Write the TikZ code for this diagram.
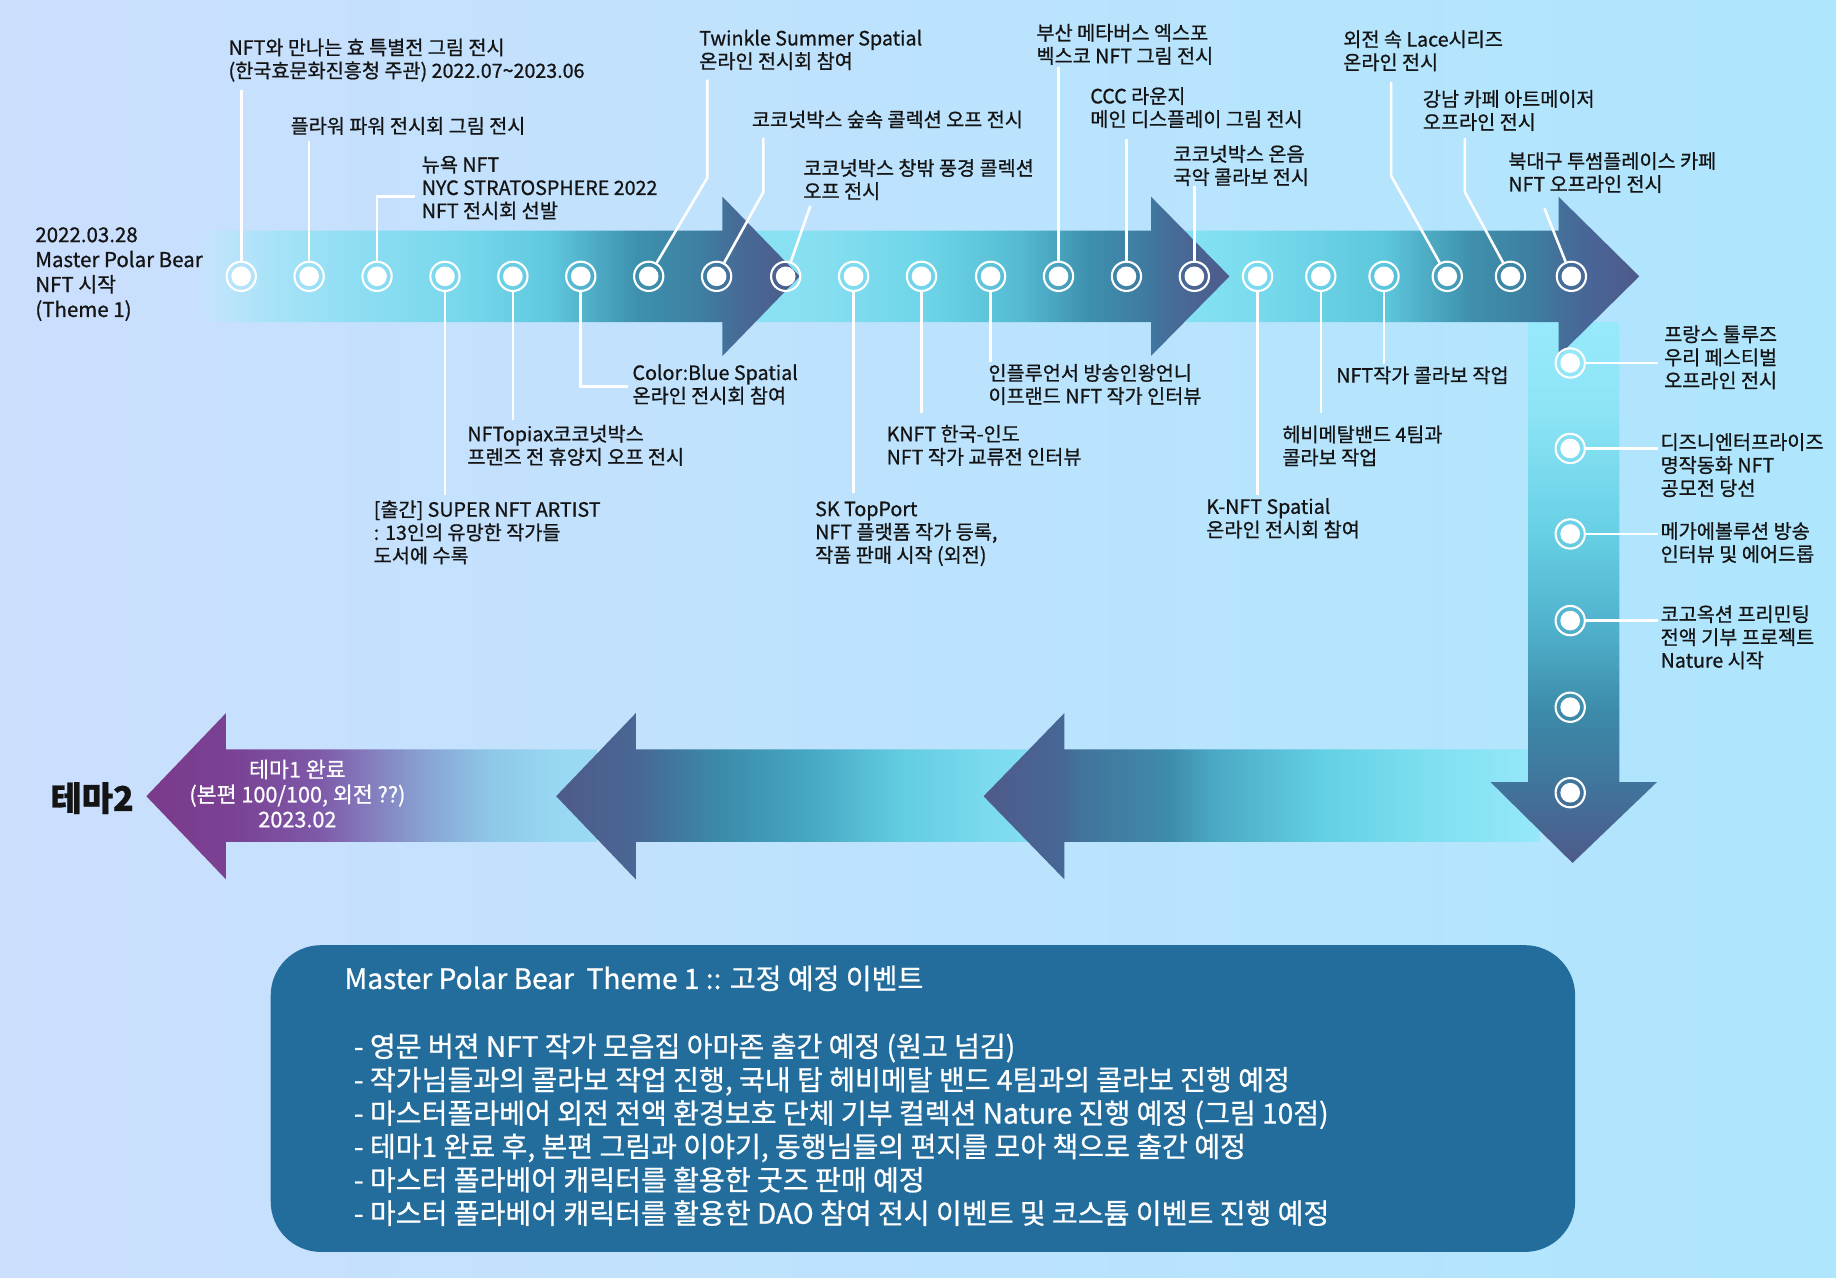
\documentclass[tikz,border=0pt]{standalone}
\usepackage{fontspec}
\setmainfont{Noto Sans CJK KR}[FakeBold=0.8]

\definecolor{bgL}{HTML}{CBDFFD}
\definecolor{bgR}{HTML}{AEE6FD}
\definecolor{boxblue}{HTML}{236D9D}
\definecolor{ink}{HTML}{141414}
% segment 1
\definecolor{sAa}{HTML}{C4E4FC}\definecolor{sAb}{HTML}{A9E3F8}\definecolor{sAc}{HTML}{8FDEF3}
\definecolor{sAd}{HTML}{76D7EB}\definecolor{sAe}{HTML}{5FC8DE}\definecolor{sAf}{HTML}{3D90AD}
\definecolor{sAg}{HTML}{3E7EA1}\definecolor{sAh}{HTML}{466B97}\definecolor{sAi}{HTML}{4F5A8A}
% segment 2
\definecolor{sBa}{HTML}{8FE3F4}\definecolor{sBb}{HTML}{86DFF1}\definecolor{sBc}{HTML}{6ED5E8}
\definecolor{sBd}{HTML}{55BBD3}\definecolor{sBe}{HTML}{3E90AD}\definecolor{sBf}{HTML}{3F789F}
\definecolor{sBg}{HTML}{466C98}\definecolor{sBh}{HTML}{4E5A8A}
% segment 3
\definecolor{sCa}{HTML}{86E2F3}\definecolor{sCb}{HTML}{7CDDEF}\definecolor{sCc}{HTML}{5CC6DC}
\definecolor{sCd}{HTML}{3F90AC}\definecolor{sCe}{HTML}{3D7EA0}\definecolor{sCf}{HTML}{44709A}
\definecolor{sCg}{HTML}{496496}\definecolor{sCh}{HTML}{4E5A8A}
% vertical
\definecolor{vA}{HTML}{97E9FB}\definecolor{vB}{HTML}{8DE4F6}\definecolor{vC}{HTML}{68D0E5}
\definecolor{vD}{HTML}{4FB0CB}\definecolor{vE}{HTML}{3C8AA9}\definecolor{vF}{HTML}{40769C}
\definecolor{vG}{HTML}{4E5A8A}
% bottom A
\definecolor{bAa}{HTML}{4F5A8A}\definecolor{bAb}{HTML}{466895}\definecolor{bAc}{HTML}{42739B}
\definecolor{bAd}{HTML}{3E8CAB}\definecolor{bAe}{HTML}{4BA8C4}\definecolor{bAf}{HTML}{62CFE3}
\definecolor{bAg}{HTML}{7DDFF0}\definecolor{bAh}{HTML}{96E8FA}
% bottom B
\definecolor{bBa}{HTML}{4F5A8A}\definecolor{bBb}{HTML}{486793}\definecolor{bBc}{HTML}{42729B}
\definecolor{bBd}{HTML}{3B8AAA}\definecolor{bBe}{HTML}{45A5C2}\definecolor{bBf}{HTML}{62CCE0}
\definecolor{bBg}{HTML}{7ADAEE}\definecolor{bBh}{HTML}{88E0F2}
% bottom C (purple)
\definecolor{bCa}{HTML}{7B3A8B}\definecolor{bCb}{HTML}{7A4294}\definecolor{bCc}{HTML}{7E58A8}
\definecolor{bCd}{HTML}{8480BF}\definecolor{bCe}{HTML}{89A8D6}\definecolor{bCf}{HTML}{8EC8E8}
\definecolor{bCg}{HTML}{98D8F2}\definecolor{bCh}{HTML}{9ADAF3}

\pgfdeclarehorizontalshading{shsegone}{100bp}{color(0bp)=(sAa); color(25bp)=(sAa); color(30.4bp)=(sAb);
 color(37.3bp)=(sAc); color(47.1bp)=(sAd); color(54bp)=(sAe); color(61.4bp)=(sAf); color(66.8bp)=(sAg);
 color(69.7bp)=(sAh); color(75bp)=(sAi); color(100bp)=(sAi)}
\pgfdeclarehorizontalshading{shsegtwo}{100bp}{color(0bp)=(sBa); color(25bp)=(sBa); color(36.1bp)=(sBb);
 color(46.1bp)=(sBc); color(55bp)=(sBd); color(61.7bp)=(sBe); color(67.6bp)=(sBf); color(69.4bp)=(sBg);
 color(75bp)=(sBh); color(100bp)=(sBh)}
\pgfdeclarehorizontalshading{shsegthree}{100bp}{color(0bp)=(sCa); color(25bp)=(sCa); color(32.5bp)=(sCb);
 color(48bp)=(sCc); color(57bp)=(sCd); color(63.75bp)=(sCe); color(66.4bp)=(sCf); color(70bp)=(sCg);
 color(75bp)=(sCh); color(100bp)=(sCh)}
\pgfdeclareverticalshading{shvert}{100bp}{color(0bp)=(vG); color(25bp)=(vG); color(32.7bp)=(vF);
 color(38.9bp)=(vE); color(46.5bp)=(vD); color(55.7bp)=(vC); color(66.9bp)=(vB); color(75bp)=(vA);
 color(100bp)=(vA)}
\pgfdeclarehorizontalshading{shbota}{100bp}{color(0bp)=(bAa); color(25bp)=(bAa); color(32.3bp)=(bAb);
 color(33.6bp)=(bAc); color(41.8bp)=(bAd); color(45.6bp)=(bAe); color(55.3bp)=(bAf); color(64.6bp)=(bAg);
 color(75bp)=(bAh); color(100bp)=(bAh)}
\pgfdeclarehorizontalshading{shbotb}{100bp}{color(0bp)=(bBa); color(25bp)=(bBa); color(33bp)=(bBb);
 color(35.5bp)=(bBc); color(41.2bp)=(bBd); color(49.8bp)=(bBe); color(59.6bp)=(bBf); color(67.9bp)=(bBg);
 color(75bp)=(bBh); color(100bp)=(bBh)}
\pgfdeclarehorizontalshading{shbotc}{100bp}{color(0bp)=(bCa); color(25bp)=(bCa); color(34.7bp)=(bCb);
 color(43.8bp)=(bCc); color(50.3bp)=(bCd); color(56.8bp)=(bCe); color(63.3bp)=(bCf); color(70.5bp)=(bCg);
 color(75bp)=(bCh); color(100bp)=(bCh)}

\tikzset{
  ring/.style={circle, draw=white, line width=1.8pt, minimum size=25pt, inner sep=0pt,
    path picture={\fill[white] (path picture bounding box.center) circle[radius=8.4pt];}},
  conn/.style={draw=white, line width=2.2pt},
  lbl/.style={text=ink, font=\fontsize{16.8}{19.7}\selectfont, align=left, inner sep=0pt, anchor=base west},
  boxtxt/.style={text=white, font=\fontsize{24}{28.5}\selectfont, align=left, inner sep=0pt, anchor=base west}
}

\begin{document}
\begin{tikzpicture}[x=1pt, y=-1pt]
\useasboundingbox (0,0) rectangle (1568,1091);
\shade[left color=bgL, right color=bgR] (0,0) rectangle (1568,1091);

% ---- arrow bands (bottom to top drawing order) ----
\shade[shading=shbotc] (510,640) -- (193,640) -- (193,609) -- (125,680) -- (193,751) -- (193,719) -- (510,719) -- cycle;
\shade[shading=shbotb] (900,640) -- (543,640) -- (543,609) -- (475,680) -- (543,751) -- (543,719) -- (900,719) -- cycle;
\shade[shading=shbota] (1315,640) -- (909,640) -- (909,609) -- (840,680) -- (909,751) -- (909,719) -- (1315,719) -- cycle;
\shade[shading=shvert] (1305,275) -- (1383,275) -- (1383,668) -- (1415,668) -- (1343,737) -- (1273,668) -- (1305,668) -- cycle;
\shade[shading=shsegthree] (1000,197) -- (1331,197) -- (1331,168) -- (1400,236) -- (1331,304) -- (1331,275) -- (1000,275) -- cycle;
\shade[shading=shsegtwo] (600,197) -- (983,197) -- (983,168) -- (1050,236) -- (983,304) -- (983,275) -- (600,275) -- cycle;
\shade[shading=shsegone] (617,197) -- (189,197) .. controls (175,197) .. (175,211) -- (175,261) .. controls (175,275) .. (189,275) -- (617,275) -- (617,304) -- (683,236) -- (617,168) -- cycle;

% ---- circles ----
\foreach \i/\x in {1/206,2/264,3/322,4/380,5/438,6/496,7/554,8/612,9/671,10/729,11/787,12/846,13/904,14/962,15/1020,16/1074,17/1128,18/1182,19/1236,20/1290,21/1342}
  \node[ring] (c\i) at (\x,236) {};
\foreach \i/\y in {1/310,2/383,3/456,4/530,5/604,6/677}
  \node[ring] (v\i) at (1341,\y) {};

% ---- connector end points ----
\coordinate (e1) at (206,77);
\coordinate (e2) at (264,120);
\coordinate (e3a) at (322,168); \coordinate (e3b) at (354,168);
\coordinate (e4) at (380,423);
\coordinate (e5) at (438,359);
\coordinate (e6a) at (496,330); \coordinate (e6b) at (536,330);
\coordinate (e7a) at (604,152); \coordinate (e7b) at (604,68);
\coordinate (e8a) at (652,164); \coordinate (e8b) at (652,118);
\coordinate (e9) at (692,176);
\coordinate (e10) at (729,421);
\coordinate (e11) at (787,353);
\coordinate (e12) at (846,309);
\coordinate (e13) at (904,57);
\coordinate (e14) at (962,119);
\coordinate (e15) at (1020,159);
\coordinate (e16) at (1074,423);
\coordinate (e17) at (1128,353);
\coordinate (e18) at (1182,311);
\coordinate (e19a) at (1188,150); \coordinate (e19b) at (1188,70);
\coordinate (e20a) at (1251,164); \coordinate (e20b) at (1251,118);
\coordinate (e21) at (1319,178);
\coordinate (f1) at (1416,310);
\coordinate (f2) at (1416,383);
\coordinate (f3) at (1416,456);
\coordinate (f4) at (1416,530);

% ---- connectors ----
\draw[conn] (c1) -- (e1);
\draw[conn] (c2) -- (e2);
\draw[conn] (c3) -- (e3a) -- (e3b);
\draw[conn] (c4) -- (e4);
\draw[conn] (c5) -- (e5);
\draw[conn] (c6) -- (e6a) -- (e6b);
\draw[conn] (c7) -- (e7a) -- (e7b);
\draw[conn] (c8) -- (e8a) -- (e8b);
\draw[conn] (c9) -- (e9);
\draw[conn] (c10) -- (e10);
\draw[conn] (c11) -- (e11);
\draw[conn] (c12) -- (e12);
\draw[conn] (c13) -- (e13);
\draw[conn] (c14) -- (e14);
\draw[conn] (c15) -- (e15);
\draw[conn] (c16) -- (e16);
\draw[conn] (c17) -- (e17);
\draw[conn] (c18) -- (e18);
\draw[conn] (c19) -- (e19a) -- (e19b);
\draw[conn] (c20) -- (e20a) -- (e20b);
\draw[conn] (c21) -- (e21);
\draw[conn] (v1) -- (f1);
\draw[conn] (v2) -- (f2);
\draw[conn] (v3) -- (f3);
\draw[conn] (v4) -- (f4);

% ---- labels (anchor = baseline of the last line) ----
\node[lbl, font=\fontsize{17.5}{21.3}\selectfont] (start) at (30,270.7) {2022.03.28\\Master Polar Bear\\NFT 시작\\(Theme 1)};
\node[lbl] (l1) at (195,66.5) {NFT와 만나는 효 특별전 그림 전시\\(한국효문화진흥청 주관) 2022.07\textasciitilde 2023.06};
\node[lbl] (l2) at (248,113.8) {플라워 파워 전시회 그림 전시};
\node[lbl] (l3) at (360,186.2) {뉴욕 NFT\\NYC STRATOSPHERE 2022\\NFT 전시회 선발};
\node[lbl] (l4) at (319,480.7) {[출간] SUPER NFT ARTIST\\: 13인의 유망한 작가들\\도서에 수록};
\node[lbl] (l5) at (399,396.5) {NFTopiax코코넛박스\\프렌즈 전 휴양지 오프 전시};
\node[lbl] (l6) at (540,344.2) {Color:Blue Spatial\\온라인 전시회 참여};
\node[lbl] (l7) at (597,58.5) {Twinkle Summer Spatial\\온라인 전시회 참여};
\node[lbl] (l8) at (642,108.3) {코코넛박스 숲속 콜렉션 오프 전시};
\node[lbl] (l9) at (686,169.5) {코코넛박스 창밖 풍경 콜렉션\\오프 전시};
\node[lbl] (l10) at (696,480.2) {SK TopPort\\NFT 플랫폼 작가 등록,\\작품 판매 시작 (외전)};
\node[lbl] (l11) at (757,396.5) {KNFT 한국-인도\\NFT 작가 교류전 인터뷰};
\node[lbl] (l12) at (844,344.5) {인플루언서 방송인왕언니\\이프랜드 NFT 작가 인터뷰};
\node[lbl] (l13) at (885,54) {부산 메타버스 엑스포\\벡스코 NFT 그림 전시};
\node[lbl] (l14) at (931,108) {CCC 라운지\\메인 디스플레이 그림 전시};
\node[lbl] (l15) at (1002,157.5) {코코넛박스 온음\\국악 콜라보 전시};
\node[lbl] (l16) at (1030,458.5) {K-NFT Spatial\\온라인 전시회 참여};
\node[lbl] (l17) at (1095,397) {헤비메탈밴드 4팀과\\콜라보 작업};
\node[lbl] (l18) at (1141,326.8) {NFT작가 콜라보 작업};
\node[lbl] (l19) at (1147,59.5) {외전 속 Lace시리즈\\온라인 전시};
\node[lbl] (l20) at (1215,110.5) {강남 카페 아트메이저\\오프라인 전시};
\node[lbl] (l21) at (1288,163.5) {북대구 투썸플레이스 카페\\NFT 오프라인 전시};
\node[lbl] (r1) at (1421,331.2) {프랑스 툴루즈\\우리 페스티벌\\오프라인 전시};
\node[lbl] (r2) at (1418,423.2) {디즈니엔터프라이즈\\명작동화 NFT\\공모전 당선};
\node[lbl] (r3) at (1418,479.5) {메가에볼루션 방송\\인터뷰 및 에어드롭};
\node[lbl] (r4) at (1418,570.2) {코고옥션 프리민팅\\전액 기부 프로젝트\\Nature 시작};

% ---- theme 2 / completion ----
\node[text=ink, font=\bfseries\fontsize{29}{32}\selectfont, anchor=base west, inner sep=0pt] (theme2) at (43,692.5) {테마2};
\node[text=white, font=\fontsize{18.5}{21.3}\selectfont, align=center, anchor=base, inner sep=0pt] (done) at (254,706.6) {테마1 완료\\(본편 100/100, 외전 ??)\\2023.02};

% ---- bottom box ----
\node[fill=boxblue, rounded corners=43pt, minimum width=1114pt, minimum height=262pt, inner sep=0pt, anchor=north west] (box) at (231,807) {};
\node[boxtxt] (title) at (294,844.6) {Master Polar Bear\ \ Theme 1 :: 고정 예정 이벤트};
\node[boxtxt] (items) at (302,1045.1) {- 영문 버젼 NFT 작가 모음집 아마존 출간 예정 (원고 넘김)\\
- 작가님들과의 콜라보 작업 진행, 국내 탑 헤비메탈 밴드 4팀과의 콜라보 진행 예정\\
- 마스터폴라베어 외전 전액 환경보호 단체 기부 컬렉션 Nature 진행 예정 (그림 10점)\\
- 테마1 완료 후, 본편 그림과 이야기, 동행님들의 편지를 모아 책으로 출간 예정\\
- 마스터 폴라베어 캐릭터를 활용한 굿즈 판매 예정\\
- 마스터 폴라베어 캐릭터를 활용한 DAO 참여 전시 이벤트 및 코스튬 이벤트 진행 예정};
\end{tikzpicture}
\end{document}
